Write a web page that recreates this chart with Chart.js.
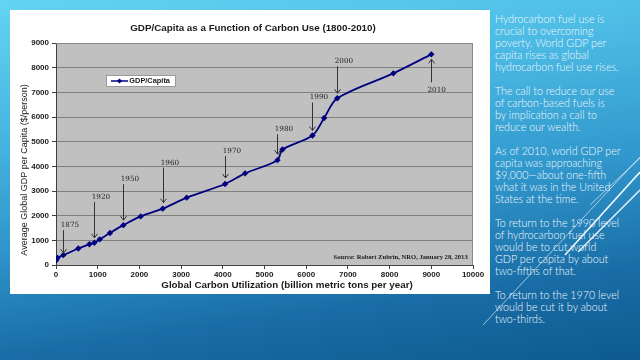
<!DOCTYPE html>
<html><head><meta charset="utf-8">
<script src="https://cdn.jsdelivr.net/npm/chart.js@4/dist/chart.umd.min.js"></script>
<style>
html,body{margin:0;padding:0;}
body{width:640px;height:360px;overflow:hidden;position:relative;
background:linear-gradient(172deg,#63d4f2 0%,#4ab8e3 28%,#3096cb 55%,#196ca5 80%,#0e5a91 100%);
font-family:'Liberation Sans',Arial,sans-serif;}
#box{position:absolute;left:10px;top:10px;width:480px;height:284px;background:#fff;}
#side{position:absolute;left:495px;top:13px;width:145px;color:#eef8fc;font-family:Lato,'Open Sans',sans-serif;font-weight:300;font-size:10.7px;line-height:12px;white-space:nowrap;}
#side p{margin:0 0 12px 0;}
svg{position:absolute;left:0;top:0;}
</style></head><body>
<svg width="640" height="360">
<g stroke="#ffffff" fill="none">
<line x1="483" y1="325" x2="640" y2="157" stroke-width="0.8" stroke-opacity="0.75"/>
<line x1="590" y1="205" x2="640" y2="158" stroke-width="0.8" stroke-opacity="0.75"/>
<line x1="565" y1="255" x2="640" y2="172" stroke-width="1.6" stroke-opacity="0.95"/>
<line x1="578" y1="252" x2="640" y2="190" stroke-width="1.4" stroke-opacity="0.9"/>
</g>
</svg>
<div id="box"><canvas id="c"></canvas></div>
<div id="side">
<p>Hydrocarbon fuel use is<br>crucial to overcoming<br>poverty. World GDP per<br>capita rises as global<br>hydrocarbon fuel use rises.</p>
<p>The call to reduce our use<br>of carbon-based fuels is<br>by implication a call to<br>reduce our wealth.</p>
<p>As of 2010, world GDP per<br>capita was approaching<br>$9,000—about one-fifth<br>what it was in the United<br>States at the time.</p>
<p>To return to the 1990 level<br>of hydrocarbon fuel use<br>would be to cut world<br>GDP per capita by about<br>two-fifths of that.</p>
<p>To return to the 1970 level<br>would be cut it by about<br>two-thirds.</p>
</div>
<script>
// ---- data ----
const carbonUse = [0, 40, 175, 535, 800, 920, 1050, 1295, 1615, 2030, 2560, 3135, 4055, 4535, 5310, 5430, 6150, 6430, 6745, 8090, 9000];
const gdpPerCapita = [180, 290, 400, 670, 840, 900, 1040, 1300, 1615, 1970, 2285, 2730, 3285, 3715, 4250, 4680, 5250, 5960, 6760, 7770, 8540];
const yearLabels = ['1875', '1920', '1950', '1960', '1970', '1980', '1990', '2000', '2010'];
const yearPointIndex = [2, 5, 8, 10, 12, 14, 16, 18, 20];
const seriesName = 'GDP/Capita';
const chartTitle = 'GDP/Capita as a Function of Carbon Use (1800-2010)';
const xAxisTitle = 'Global Carbon Utilization (billion metric tons per year)';
const yAxisTitle = 'Average Global GDP per Capita ($/person)';
const sourceNote = 'Source: Robert Zubrin, NRO, January 28, 2013';
const xRange = [0, 10000, 1000];
const yRange = [0, 9000, 1000];

// ---- styles for annotations (pixel sizes) ----
const arrowLen = [23, 36, 36, 35, 22, 20, 28, 27, 23];
const arrowGap = [2, 5, 5, 6, 6, 6, 5, 5, 5];
const arrowUp = [false, false, false, false, false, false, false, false, true];

const NAVY = '#000080';

function drawDiamond(ctx, x, y, r) {
  ctx.beginPath();
  ctx.moveTo(x, y - r); ctx.lineTo(x + r, y); ctx.lineTo(x, y + r); ctx.lineTo(x - r, y);
  ctx.closePath(); ctx.fill();
}

const decor = {
  id: 'decor',
  beforeDraw(chart) {
    const {ctx, chartArea: a} = chart;
    ctx.save();
    ctx.fillStyle = '#c0c0c0';
    ctx.fillRect(a.left, a.top, a.width, a.height);
    ctx.restore();
  },
  afterDatasetsDraw(chart) {
    const ctx = chart.ctx;
    const meta = chart.getDatasetMeta(0);
    ctx.save();
    ctx.strokeStyle = '#333';
    ctx.fillStyle = '#222';
    ctx.lineWidth = 1;
    ctx.font = '7.2px "DejaVu Serif", serif';
    ctx.textBaseline = 'middle';
    ctx.textAlign = 'left';
    yearLabels.forEach((lab, i) => {
      const p = meta.data[yearPointIndex[i]];
      const x = Math.round(p.x) + 0.5;
      if (!arrowUp[i]) {
        const tip = p.y - arrowGap[i];
        const top = tip - arrowLen[i];
        ctx.beginPath();
        ctx.moveTo(x, top); ctx.lineTo(x, tip);
        ctx.moveTo(x - 3, tip - 4); ctx.lineTo(x, tip); ctx.lineTo(x + 3, tip - 4);
        ctx.stroke();
        ctx.fillText(lab, x - 2.7, top - 5);
      } else {
        const tip = p.y + arrowGap[i];
        const bot = tip + arrowLen[i];
        ctx.beginPath();
        ctx.moveTo(x, bot); ctx.lineTo(x, tip);
        ctx.moveTo(x - 3, tip + 4); ctx.lineTo(x, tip); ctx.lineTo(x + 3, tip + 4);
        ctx.stroke();
        ctx.fillText(lab, x - 4, bot + 7.5);
      }
    });
    ctx.restore();
  },
  afterDraw(chart) {
    const {ctx, chartArea: a} = chart;
    ctx.save();
    ctx.strokeStyle = '#8a8a8a';
    ctx.lineWidth = 1;
    ctx.beginPath();
    ctx.moveTo(a.left, a.top + 0.5); ctx.lineTo(a.right - 0.5, a.top + 0.5); ctx.lineTo(a.right - 0.5, a.bottom);
    ctx.stroke();
    ctx.fillStyle = '#1a1a1a';
    ctx.textAlign = 'center';
    ctx.textBaseline = 'middle';
    ctx.font = 'bold 9.8px "Liberation Sans", Arial, sans-serif';
    ctx.fillText(chartTitle, 243, 18.3);
    ctx.fillText(xAxisTitle, 277, 275);
    ctx.save();
    ctx.translate(14.3, 160);
    ctx.rotate(-Math.PI / 2);
    ctx.font = '9px "Liberation Sans", Arial, sans-serif';
    ctx.fillText(yAxisTitle, 0, 0);
    ctx.restore();
    ctx.textAlign = 'right';
    ctx.font = 'bold 6.6px "Liberation Serif", "Times New Roman", serif';
    ctx.fillText(sourceNote, 457.7, 247.7);
    ctx.fillStyle = '#ffffff';
    ctx.fillRect(96, 65, 69, 11);
    ctx.strokeStyle = '#9a9a9a';
    ctx.strokeRect(96.5, 65.5, 69, 11);
    ctx.strokeStyle = NAVY;
    ctx.lineWidth = 1.5;
    ctx.beginPath(); ctx.moveTo(101, 71); ctx.lineTo(118, 71); ctx.stroke();
    ctx.fillStyle = NAVY;
    drawDiamond(ctx, 109.5, 71, 2.6);
    ctx.fillStyle = '#1a1a1a';
    ctx.textAlign = 'left';
    ctx.font = 'bold 7.4px "Liberation Sans", Arial, sans-serif';
    ctx.fillText(seriesName, 119.3, 71);
    ctx.restore();
  }
};

const tickFont = {family: '"Liberation Sans", Arial, sans-serif', size: 8, weight: 'bold'};
const plain = v => String(v);

new Chart(document.getElementById('c'), {
  type: 'scatter',
  data: {
    datasets: [{
      label: seriesName,
      data: carbonUse.map((c, i) => ({x: c, y: gdpPerCapita[i]})),
      showLine: true,
      borderColor: NAVY,
      backgroundColor: NAVY,
      borderWidth: 1.8,
      tension: 0.3,
      pointStyle: 'rectRot',
      pointRadius: 3.2,
      pointBorderWidth: 0,
      pointHoverRadius: 3.2
    }]
  },
  options: {
    responsive: true,
    maintainAspectRatio: false,
    animation: false,
    events: [],
    layout: {padding: {left: 0, right: 17, top: 33, bottom: 0}},
    plugins: {legend: {display: false}, tooltip: {enabled: false}, title: {display: false}},
    scales: {
      x: {
        type: 'linear', min: xRange[0], max: xRange[1],
        afterFit(s) { s.height = 29; },
        ticks: {stepSize: xRange[2], padding: 1, color: '#1a1a1a', font: tickFont, maxRotation: 0, callback: plain},
        grid: {drawOnChartArea: false, drawTicks: true, tickLength: 4, color: '#404040'},
        border: {display: true, color: '#404040', width: 1}
      },
      y: {
        min: yRange[0], max: yRange[1],
        afterFit(s) { s.width = 46; },
        ticks: {stepSize: yRange[2], padding: 3, color: '#1a1a1a', font: tickFont, callback: plain},
        grid: {drawOnChartArea: true, drawTicks: true, tickLength: 4, color: '#808080', tickColor: '#404040', lineWidth: 1},
        border: {display: true, color: '#404040', width: 1}
      }
    }
  },
  plugins: [decor]
});
</script>
</body></html>
